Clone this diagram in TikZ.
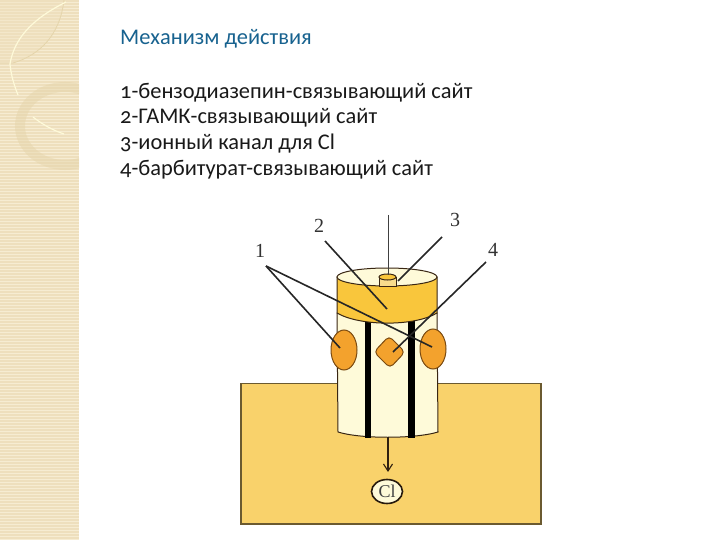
\documentclass[tikz,border=0pt]{standalone}
\usepackage{xcolor}
\usepackage{fontspec}
\setmainfont[Numbers=OldStyle]{Carlito}
\newfontfamily\labelfont{Liberation Serif}
\usetikzlibrary{positioning,calc,arrows.meta,shapes.geometric}
\definecolor{stripbase}{HTML}{f6ecd2}
\definecolor{stripline}{HTML}{eedfbd}
\definecolor{stripring}{HTML}{e5d5ab}
\definecolor{titleblue}{HTML}{17628f}
\definecolor{membrane}{HTML}{f9d26b}
\definecolor{membraneedge}{HTML}{6b5a30}
\definecolor{channel}{HTML}{fefad9}
\definecolor{band}{HTML}{f9c63c}
\definecolor{tube}{HTML}{f8dc8c}
\definecolor{site}{HTML}{f3a22d}
\definecolor{siteedge}{HTML}{7a4a10}
\begin{document}
\begin{tikzpicture}[x=1pt,y=-1pt,
  heading/.style={font=\fontsize{22.4}{24}\selectfont, text=titleblue, anchor=west, inner sep=0pt},
  legend/.style={font=\fontsize{22.4}{24}\selectfont, text=black!90, anchor=west, inner sep=0pt},
  numlabel/.style={font=\labelfont\fontsize{20}{22}\selectfont, text=black!80, inner sep=0pt},
  leader/.style={line width=1.6pt, color=black!85},
  outline/.style={draw=black!70!brown, line width=1pt},
  sitemark/.style={draw=siteedge, fill=site, line width=1pt}
]
\useasboundingbox (0,0) rectangle (720,540);
\fill[white] (0,0) rectangle (720,540);
% left strip
\fill[stripbase] (0,0) rectangle (79,540);
\foreach \y in {1,4,...,540} {
  \draw[stripline, line width=1.3pt] (0,\y) -- (79,\y);
}
\fill[stripline, opacity=.35] (0,0) -- (64,0) .. controls (60,35) and (40,55) .. (13,63) -- (0,63) -- cycle;
\draw[stripring, line width=.8pt] (0,63) -- (13,63) .. controls (40,55) and (60,35) .. (64,0);
\draw[channel, line width=1.2pt] (10,64) .. controls (14,40) and (30,20) .. (66,2);
\draw[channel, line width=1.2pt] (10,64) .. controls (11,75) and (14,85) .. (18,95);
\draw[channel, line width=1.2pt] (33,117) .. controls (42,124) and (52,130) .. (64,134);
\begin{scope}
  \clip (0,0) rectangle (79,540);
  \draw[stripring, line width=10pt, opacity=.5] (65,126) ellipse (45 and 39);
\end{scope}
% text
\node[heading] (title) at (120,38.5) {Механизм действия};
\node[legend] (item1) at (120,92.5) {1-бензодиазепин-связывающий сайт};
\node[legend] (item2) at (120,118) {2-ГАМК-связывающий сайт};
\node[legend] (item3) at (120,144) {3-ионный канал для Cl};
\node[legend] (item4) at (120,170) {4-барбитурат-связывающий сайт};
% membrane
\draw[fill=membrane, draw=membraneedge, line width=1.2pt] (241,383.5) rectangle (541,524);
% channel
\draw[outline, fill=channel] (337,313) -- (338,432) .. controls (360,439) and (415,439) .. (438,432) -- (437,313) -- cycle;
\fill[black] (365,318) rectangle (371,437.5);
\fill[black] (408,318) rectangle (414.5,437.5);
% top cap
\draw[outline, fill=band] (337,277) -- (337,313) .. controls (360,326.5) and (415,326.5) .. (437,313) -- (437,277) -- cycle;
\draw[outline, fill=channel] (387,277) ellipse (50 and 9);
% inner tube
\draw[outline, fill=tube] (379,277) -- (379,286) -- (396,286) -- (396,277);
\draw[outline, fill=band] (387.5,277) ellipse (8.5 and 3);
% sites
\draw[sitemark] (344,350) ellipse (13 and 20);
\draw[sitemark] (433,349) ellipse (13 and 20);
\draw[sitemark, rounded corners=4.5pt] (389,336) -- (405,352) -- (390,368) -- (374,352) -- cycle;
% pore and ion
\node[draw=black!80!brown, fill=channel, ellipse, line width=1.6pt, minimum width=31pt, minimum height=24pt, inner sep=0pt, font=\labelfont\fontsize{18}{20}\selectfont, text=black!75] (ion) at (387,491.5) {Cl};
\coordinate (poretop) at (388.5,215);
\coordinate (poremouth) at (388.5,275);
\coordinate (porebottom) at (388,437);
\coordinate (poreexit) at (388,472);
\draw[line width=1.3pt, color=black!75] (poretop) -- (poremouth);
\draw[-{Straight Barb[length=7pt,width=9pt]}, line width=1.1pt, color=black!75!brown] (porebottom) -- (poreexit);
% labels and leaders
\node[numlabel] (lab1) at (260,251) {1};
\node[numlabel] (lab2) at (319,226) {2};
\node[numlabel] (lab3) at (455,220) {3};
\node[numlabel] (lab4) at (493,250) {4};
\coordinate (from1) at (266,266);
\coordinate (from2) at (325,241);
\coordinate (from3) at (442,237);
\coordinate (from4) at (486,262);
\coordinate (siteA) at (340,348);
\coordinate (siteB) at (432,347);
\coordinate (siteC) at (393,352);
\coordinate (gaba) at (387,309);
\coordinate (mouth) at (398,281);
\draw[leader] (from1) -- (siteA);
\draw[leader] (from1) -- (siteB);
\draw[leader] (from2) -- (gaba);
\draw[leader] (from3) -- (mouth);
\draw[leader] (from4) -- (siteC);
\end{tikzpicture}
\end{document}
